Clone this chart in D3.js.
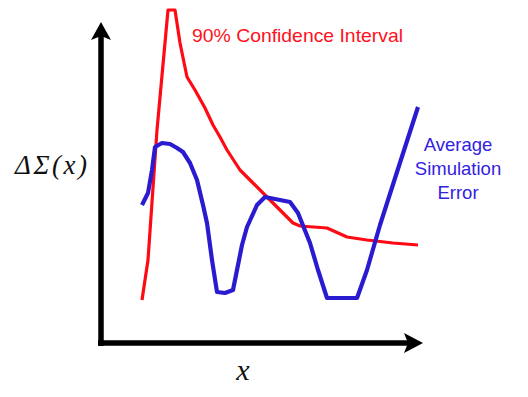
<!DOCTYPE html>
<html><head><meta charset="utf-8">
<script src="https://cdn.jsdelivr.net/npm/d3@7"></script>
<style>html,body{margin:0;padding:0;background:#fff;}svg{display:block;}</style>
</head><body>
<script>
// Values (arbitrary units, x along axis, y height above axis)
const redX  = [41,47,56,67,74,79,86,94,104,112,119,126,139,152,166,179,192,199,226,246,266,292,317];
const redY  = [43,83,213,333,333,300,266,253,235,218,206,193,173,160,146,133,120,117,115,106,103,100,98];
const blueX = [41,47,51,54,61,69,76,82,89,96,102,106,111,116,124,132,136,141,146,156,164,174,189,197,203,209,217,226,256,266,279,296,317];
const blueY = [138,150,173,196,200,199,195,191,180,163,138,120,83,51,50,53,73,98,116,138,146,144,141,130,115,100,73,45,45,73,118,171,236];
const redLabel = "90% Confidence Interval";
const blueLabel = ["Average","Simulation","Error"];
const yLabel = "ΔΣ(x)";
const xLabel = "x";

const W=528,H=397;
const svg=d3.select("body").append("svg").attr("width",W).attr("height",H);
const x=d3.scaleLinear().domain([0,320]).range([101,421]);
const y=d3.scaleLinear().domain([0,320]).range([343,23]);

// axes
const g=svg.append("g");
g.append("line").attr("x1",x(0)).attr("x2",x(0)).attr("y1",y(0)+3).attr("y2",y(320)+12)
 .attr("stroke","#000").attr("stroke-width",5.5);
g.append("line").attr("x1",x(0)-3).attr("x2",x(320)-10).attr("y1",y(0)).attr("y2",y(0))
 .attr("stroke","#000").attr("stroke-width",5.5);
g.append("path").attr("d",`M${x(0)},${y(320)-1} L${x(0)+10},${y(320)+17} L${x(0)},${y(320)+13} L${x(0)-10},${y(320)+17}Z`).attr("fill","#000");
g.append("path").attr("d",`M${x(320)+2},${y(0)} L${x(320)-17},${y(0)-10} L${x(320)-13},${y(0)} L${x(320)-17},${y(0)+10}Z`).attr("fill","#000");

const line=d3.line().x(d=>x(d[0])).y(d=>y(d[1])).curve(d3.curveLinear);
svg.append("path").datum(redX.map((v,i)=>[v,redY[i]])).attr("d",line)
 .attr("fill","none").attr("stroke","#ff0a14").attr("stroke-width",3.2).attr("stroke-linejoin","round");
svg.append("path").datum(blueX.map((v,i)=>[v,blueY[i]])).attr("d",line)
 .attr("fill","none").attr("stroke","#2a1bd0").attr("stroke-width",4.2).attr("stroke-linejoin","round");

svg.append("text").attr("x",192).attr("y",42).text(redLabel)
 .attr("font-family","Liberation Sans, Arial, sans-serif").attr("font-size",19).attr("fill","#ff1020")
 .attr("textLength",211).attr("lengthAdjust","spacingAndGlyphs");
blueLabel.forEach((t,i)=>{
  svg.append("text").attr("x",458).attr("y",151+i*24).attr("text-anchor","middle").text(t)
   .attr("font-family","Liberation Sans, Arial, sans-serif").attr("font-size",18.5).attr("fill","#3322e0");
});
svg.append("text").attr("x",15).attr("y",174).text(yLabel)
 .attr("font-family","Liberation Serif, Times New Roman, serif").attr("font-style","italic").attr("font-size",27).attr("fill","#111")
 .attr("textLength",72).attr("lengthAdjust","spacing");
svg.append("text").attr("x",243).attr("y",380).attr("text-anchor","middle").text(xLabel)
 .attr("font-family","Liberation Serif, Times New Roman, serif").attr("font-style","italic").attr("font-size",30).attr("fill","#111");
</script>
</body></html>
